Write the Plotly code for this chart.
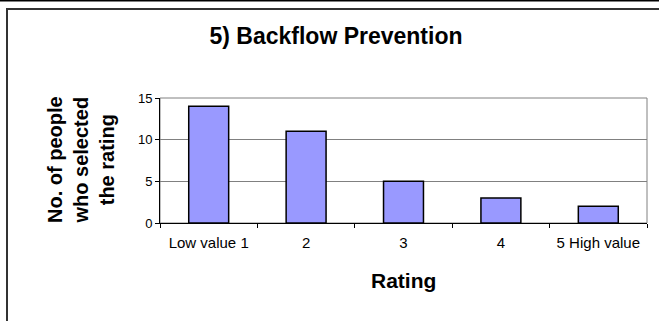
import plotly.graph_objects as go

# Survey results for question 5
categories = ["Low value 1", "2", "3", "4", "5 High value"]
counts = [14, 11, 5, 3, 2]
y_ticks = [0, 5, 10, 15]

FONT = "Liberation Sans, Arial, sans-serif"
W, H = 659, 321
ML, MR, MT, MB = 160, 12, 98, 98
PW, PH = W - ML - MR, H - MT - MB


def px_x(px):
    return (px - ML) / PW


def px_y(py):
    return (H - MB - py) / PH


fig = go.Figure(
    go.Bar(
        x=categories,
        y=counts,
        marker=dict(color="#9999FF", line=dict(color="black", width=1.5)),
        hoverinfo="x+y",
    )
)

fig.update_layout(
    width=W,
    height=H,
    margin=dict(l=ML, r=MR, t=MT, b=MB),
    paper_bgcolor="white",
    plot_bgcolor="white",
    bargap=0.59,
    showlegend=False,
    font=dict(family=FONT, color="black"),
    title=dict(
        text="<b>5) Backflow Prevention</b>",
        font=dict(size=23, family=FONT, color="black"),
        xref="paper",
        x=px_x(336),
        xanchor="center",
        yref="container",
        y=1 - 36 / H,
        yanchor="middle",
    ),
)

fig.update_xaxes(
    type="category",
    showline=True,
    linecolor="black",
    linewidth=1,
    ticks="outside",
    tickson="boundaries",
    ticklen=4,
    tickcolor="black",
    ticklabelstandoff=6,
    tickfont=dict(size=15, family=FONT, color="black"),
    showgrid=False,
    zeroline=False,
)

fig.update_yaxes(
    range=[0, 15],
    tickvals=y_ticks,
    showline=True,
    linecolor="black",
    linewidth=1,
    ticks="outside",
    ticklen=4,
    tickcolor="black",
    tickfont=dict(size=13, family=FONT, color="black"),
    showgrid=True,
    gridcolor="#808080",
    gridwidth=1,
    zeroline=False,
)

# Plot area border (gray) on the top and right
fig.add_shape(type="rect", xref="paper", yref="paper", x0=0, x1=1, y0=0, y1=1,
              line=dict(color="#808080", width=1), layer="below")

# Outer chart frame and the rule above it
fig.add_shape(type="line", xref="paper", yref="paper",
              x0=px_x(-5), x1=px_x(W + 5), y0=px_y(0.5), y1=px_y(0.5),
              line=dict(color="black", width=2))
fig.add_shape(type="rect", xref="paper", yref="paper",
              x0=px_x(7), x1=px_x(W + 20), y0=px_y(H + 20), y1=px_y(9),
              line=dict(color="#333333", width=2))

# Axis titles
fig.add_annotation(
    text="<b>No. of people<br>who selected<br>the rating</b>",
    xref="paper", yref="paper", x=px_x(80), y=0.5,
    xanchor="center", yanchor="middle", textangle=-90, showarrow=False,
    font=dict(size=20, family=FONT, color="black"),
)
fig.add_annotation(
    text="<b>Rating</b>",
    xref="paper", yref="paper", x=0.5, y=px_y(280),
    xanchor="center", yanchor="middle", showarrow=False,
    font=dict(size=21, family=FONT, color="black"),
)

fig.write_html("out.html")
